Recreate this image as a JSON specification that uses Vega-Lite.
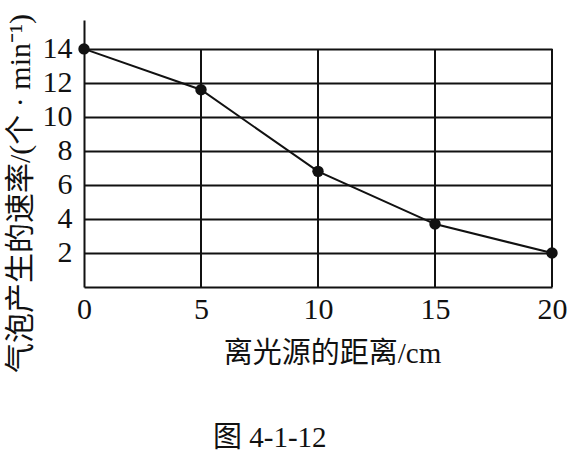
{
  "$schema": "https://vega.github.io/schema/vega-lite/v6.json",
  "autosize": "none",
  "width": 468,
  "height": 267,
  "padding": {"left": 84, "top": 20, "right": 19, "bottom": 167},
  "background": "white",
  "config": {"view": {"stroke": null}, "font": "Liberation Serif, Noto Sans CJK SC",
    "title": {"font": "Liberation Serif, Noto Sans CJK SC", "fontSize": 29, "fontWeight": "normal", "color": "#111"}},
  "title": {"text": "图 4-1-12", "orient": "bottom", "anchor": "start", "frame": "group", "dx": 129, "offset": 52},
  "datasets": {
    "pts": [
      {"distance": 0, "rate": 14},
      {"distance": 5, "rate": 11.6},
      {"distance": 10, "rate": 6.8},
      {"distance": 15, "rate": 3.7},
      {"distance": 20, "rate": 2}
    ],
    "grid": [
      {"gx": 5, "y0": 0, "y1": 14},
      {"gx": 10, "y0": 0, "y1": 14},
      {"gx": 15, "y0": 0, "y1": 14},
      {"gx": 20, "y0": 0, "y1": 14}
    ]
  },
  "layer": [
    {
      "data": {"name": "grid"},
      "mark": {"type": "rule", "color": "#111", "strokeWidth": 2},
      "encoding": {
        "x": {"field": "gx", "type": "quantitative", "scale": {"domain": [0, 20], "nice": false}},
        "y": {"field": "y0", "type": "quantitative", "scale": {"domain": [0, 15.7], "nice": false}},
        "y2": {"field": "y1"}
      }
    },
    {
      "data": {"name": "pts"},
      "mark": {"type": "line", "color": "#111", "strokeWidth": 2},
      "encoding": {
        "x": {"field": "distance", "type": "quantitative", "scale": {"domain": [0, 20], "nice": false},
          "axis": {"values": [0, 5, 10, 15, 20], "grid": false, "ticks": false, "domainColor": "#111", "domainWidth": 2,
            "labelFontSize": 30, "labelColor": "#111", "labelPadding": 7, "labelFlush": false,
            "title": "离光源的距离/cm", "titleFontSize": 29, "titleFontWeight": "normal", "titleColor": "#111",
            "titleX": 248, "titleY": 66, "titleBaseline": "middle", "titleAnchor": null}},
        "y": {"field": "rate", "type": "quantitative", "scale": {"domain": [0, 15.7], "nice": false},
          "axis": {"values": [2, 4, 6, 8, 10, 12, 14], "grid": true, "gridColor": "#111", "gridWidth": 2, "gridOpacity": 1,
            "ticks": false, "domainColor": "#111", "domainWidth": 2,
            "labelFontSize": 30, "labelColor": "#111", "labelPadding": 12, "labelBaseline": "middle",
            "title": "气泡产生的速率/(个 · min⁻¹)", "titleFontSize": 30, "titleFontWeight": "normal", "titleColor": "#111",
            "titleX": -64, "titleY": 173, "titleAngle": -90, "titleAlign": "center", "titleBaseline": "middle", "titleAnchor": null}}
      }
    },
    {
      "data": {"name": "pts"},
      "mark": {"type": "point", "filled": true, "color": "#111", "size": 130, "opacity": 1},
      "encoding": {
        "x": {"field": "distance", "type": "quantitative"},
        "y": {"field": "rate", "type": "quantitative"}
      }
    }
  ]
}
